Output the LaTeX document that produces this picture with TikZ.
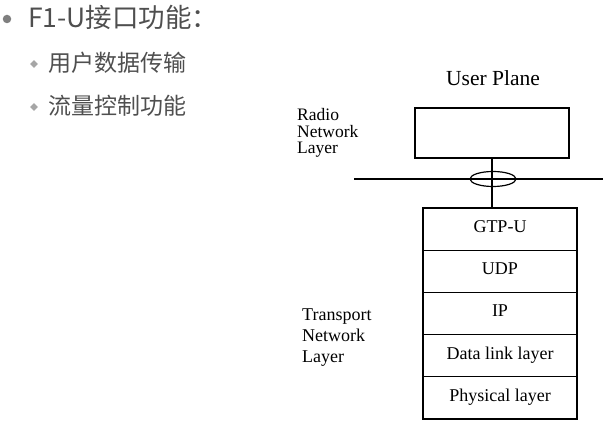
\documentclass[tikz,border=0pt]{standalone}
\usepackage{fontspec}
\setmainfont{Liberation Serif}
\newfontfamily\cjk{Noto Sans CJK SC}
\usetikzlibrary{shapes.geometric}
\definecolor{txtgray}{HTML}{4F4F4F}
\definecolor{dotgray}{HTML}{7F7F7F}
\definecolor{diagray}{HTML}{A6A6A6}
\begin{document}
\begin{tikzpicture}[x=1pt,y=-1pt,
  ln/.style={line width=1.2pt,black},
  layerbox/.style={draw,line width=1.2pt,minimum width=154pt,minimum height=42.2pt,inner sep=0pt,outer sep=0pt,
    font=\fontsize{18}{18}\selectfont,text height=12pt,text depth=5pt,anchor=north},
  lbl/.style={align=left,anchor=base west,inner sep=0pt},
  cjktitle/.style={font=\cjk\fontsize{26.5}{26.5}\selectfont,text=txtgray,anchor=base west,inner sep=0pt},
  cjksub/.style={font=\cjk\fontsize{23}{23}\selectfont,text=txtgray,anchor=base west,inner sep=0pt},
  dotbullet/.style={circle,fill=dotgray,minimum size=8.5pt,inner sep=0pt},
  diabullet/.style={diamond,fill=diagray,minimum size=8pt,inner sep=0pt}]
\useasboundingbox (0,0) rectangle (603,430);
% left text
\node[dotbullet] (b1) at (7,19) {};
\node[cjktitle] (t1) at (28,27.5) {F1-U接口功能：};
\node[diabullet] (b2) at (34,64) {};
\node[cjksub] (t2) at (48,72) {用户数据传输};
\node[diabullet] (b3) at (34,107) {};
\node[cjksub] (t3) at (48,115) {流量控制功能};
% right diagram
\node[font=\fontsize{21.5}{21.5}\selectfont,anchor=base,inner sep=0pt] (up) at (493,86) {User Plane};
\node[draw,line width=1.2pt,minimum width=154pt,minimum height=50pt,inner sep=0pt,outer sep=0pt] (rnl) at (492,133) {};
\node[lbl,font=\fontsize{17.5}{16.5}\selectfont] (rl) at (297,154) {Radio\\Network\\Layer};
\coordinate (hl) at (354,179);
\coordinate (hr) at (603,179);
\draw[ln] (hl) -- (hr);
\node[ellipse,draw,line width=1.2pt,minimum width=46pt,minimum height=15pt,inner sep=0pt] (el) at (493,179) {};
\node[layerbox] (l1) at (500,208) {GTP-U};
\node[layerbox] (l2) at (l1.south) {UDP};
\node[layerbox] (l3) at (l2.south) {IP};
\node[layerbox] (l4) at (l3.south) {Data link layer};
\node[layerbox] (l5) at (l4.south) {Physical layer};
\draw[ln] (rnl.south) -- (rnl.south |- l1.north);
\node[lbl,font=\fontsize{18}{21.5}\selectfont] (tl) at (302,363) {Transport\\Network\\Layer};
\end{tikzpicture}
\end{document}
